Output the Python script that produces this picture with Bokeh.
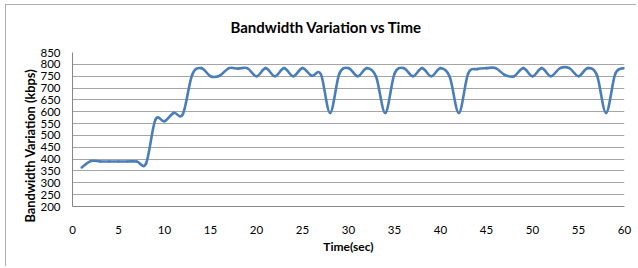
from bokeh.plotting import figure
from bokeh.models import FixedTicker, Range1d, ColumnDataSource, Title
from bokeh.embed import file_html
from bokeh.resources import INLINE
import numpy as np

# ---- data ----
time_sec = list(range(1, 61))
bandwidth_kbps = [365, 392, 390, 390, 390, 390, 390, 382, 565, 560,
                  595, 590, 755, 784, 750, 752, 784, 782, 784, 750,
                  784, 750, 784, 750, 784, 752, 758, 595, 760, 784,
                  750, 784, 748, 595, 760, 784, 750, 784, 750, 784,
                  748, 595, 760, 780, 784, 784, 755, 750, 784, 750,
                  784, 750, 784, 784, 750, 784, 755, 595, 760, 784]
x_ticks = list(range(0, 61, 5))
y_ticks = list(range(200, 851, 50))

# ---- smooth (Catmull-Rom -> cubic Bezier) segments between data points ----
x = np.array(time_sec, dtype=float)
y = np.array(bandwidth_kbps, dtype=float)
xp = np.concatenate([[x[0]], x, [x[-1]]])
yp = np.concatenate([[y[0]], y, [y[-1]]])
n = len(x)
seg = dict(
    x0=x[:-1], y0=y[:-1], x1=x[1:], y1=y[1:],
    cx0=x[:-1] + (xp[2:n + 1] - xp[0:n - 1]) / 6.0,
    cy0=y[:-1] + (yp[2:n + 1] - yp[0:n - 1]) / 6.0,
    cx1=x[1:] - (xp[3:n + 2] - xp[1:n]) / 6.0,
    cy1=y[1:] - (yp[3:n + 2] - yp[1:n]) / 6.0,
)
src = ColumnDataSource(seg)

p = figure(width=636, height=266, output_backend="svg", toolbar_location=None,
           x_range=Range1d(0, 60), y_range=Range1d(200, 850),
           min_border_left=72, min_border_right=12, min_border_top=50,
           min_border_bottom=60, title="Bandwidth Variation vs Time")

# chart-area border (only its top and left edges are inside the window)
p.styles = {
    "background-image": "linear-gradient(#aeaeae, #aeaeae), linear-gradient(#aeaeae, #aeaeae)",
    "background-position": "5px 4px, 5px 4px",
    "background-size": "640px 1px, 1px 270px",
    "background-repeat": "no-repeat",
}

p.bezier(x0="x0", y0="y0", x1="x1", y1="y1", cx0="cx0", cy0="cy0",
         cx1="cx1", cy1="cy1", source=src, line_color="#4A7EBB",
         line_width=2.6, line_cap="round")

p.title.align = "left"
p.title.offset = 158
p.title.standoff = 32
p.title.vertical_align = "middle"
p.title.text_font = "Lato"
p.title.text_font_style = "bold"
p.title.text_font_size = "15px"
p.title.text_color = "#000000"

p.outline_line_color = None
p.background_fill_color = "white"
p.border_fill_alpha = 0

p.xaxis.ticker = FixedTicker(ticks=x_ticks)
p.yaxis.ticker = FixedTicker(ticks=y_ticks)
p.xgrid.visible = False
p.ygrid.ticker = FixedTicker(ticks=y_ticks)
p.ygrid.grid_line_color = "#a6a6a6"
p.ygrid.grid_line_width = 1

for ax in (p.xaxis[0], p.yaxis[0]):
    ax.axis_line_color = "#868686"
    ax.major_tick_line_color = None
    ax.minor_tick_line_color = None
    ax.major_label_text_font = "Lato"
    ax.major_label_text_font_size = "11.5px"
    ax.major_label_text_color = "#000000"
    ax.axis_label_text_font = "Lato"
    ax.axis_label_text_font_style = "bold"
    ax.axis_label_text_color = "#000000"

p.xaxis.axis_label = "Time(sec)"
p.xaxis.axis_label_text_font_size = "12px"
p.xaxis.major_label_standoff = 13
p.xaxis.axis_label_standoff = 2

p.yaxis.major_tick_out = 0
p.yaxis.major_tick_in = 0
p.yaxis.major_label_standoff = 12

ytitle = Title(text="Bandwidth Variation (kbps)", align="left", offset=-16,
               standoff=0, text_font="Lato", text_font_style="bold",
               text_font_size="12.8px", text_color="#000000")
p.add_layout(ytitle, "left")

open("out.html", "w").write(file_html(p, INLINE))
